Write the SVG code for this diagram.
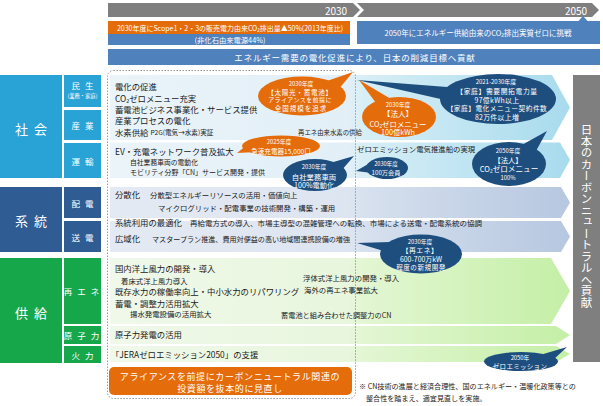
<svg xmlns="http://www.w3.org/2000/svg" width="603" height="406" viewBox="0 0 603 406">
<style>
text { font-family: "Noto Sans CJK JP", "Noto Sans", "DejaVu Sans", sans-serif; dominant-baseline: central; fill: #1a1a1a; }
.w { fill: #fff; }
.m { font-size: 8.4px; }
.s { font-size: 7.4px; }
.c { text-anchor: middle; }
.lab { font-size: 8.5px; fill: #fff; text-anchor: middle; letter-spacing: 5px; }
.big { font-size: 13px; fill: #fff; text-anchor: middle; letter-spacing: 6px; }
.ob { fill: #e46c0a; }
.db { fill: #1d4e7e; }
.soc { fill: #29a3d6; }
.sys { fill: #2e5c93; }
.sup { fill: #17a74b; }
</style>
<defs>
<linearGradient id="gA" gradientUnits="userSpaceOnUse" x1="108" y1="0" x2="570" y2="0">
<stop offset="0" stop-color="#eaf4f9"/><stop offset="0.52" stop-color="#e2eff7"/><stop offset="0.56" stop-color="#d6eef6"/><stop offset="1" stop-color="#a8dbed"/>
</linearGradient>
<linearGradient id="gB" gradientUnits="userSpaceOnUse" x1="108" y1="0" x2="570" y2="0">
<stop offset="0" stop-color="#e4eaf3"/><stop offset="0.52" stop-color="#dde5f1"/><stop offset="0.56" stop-color="#d6e0ee"/><stop offset="1" stop-color="#b6c7e0"/>
</linearGradient>
<linearGradient id="gC" gradientUnits="userSpaceOnUse" x1="108" y1="0" x2="570" y2="0">
<stop offset="0" stop-color="#f0f8ea"/><stop offset="0.52" stop-color="#e8f6dd"/><stop offset="0.56" stop-color="#e2f6d2"/><stop offset="1" stop-color="#c4efa6"/>
</linearGradient>
</defs>

<!-- timeline -->
<g id="timeline">
<polygon fill="#7f7f7f" points="108,3 353,3 360,10 353,17 108,17"/>
<polygon fill="#7f7f7f" points="357,3 592,3 599,10 592,17 357,17 364,10"/>
<text class="w c" x="336" y="10" font-size="10">2030</text>
<text class="w c" x="576" y="10" font-size="10">2050</text>
</g>

<g id="goal2030">
<rect x="108" y="21" width="242" height="13" fill="#e46c0a"/>
<rect x="108" y="34" width="242" height="11" fill="#4f81bd"/>
<text class="w c" x="230" y="28" font-size="7.3" textLength="226" lengthAdjust="spacingAndGlyphs">2030年度にScope1・2・3の販売電力由来CO₂排出量▲50%(2013年度比)</text>
<text class="w c" x="230" y="40" font-size="7.3">(非化石由来電源44%)</text>
</g>

<g id="goal2050">
<rect x="357" y="21" width="243" height="23" fill="#4f81bd"/>
<polygon fill="#4f81bd" points="578,21.5 583,16 588,21.5"/>
<text class="w c" x="478" y="32" font-size="7.5" textLength="187" lengthAdjust="spacingAndGlyphs">2050年にエネルギー供給由来のCO₂排出実質ゼロに挑戦</text>
</g>

<g id="banner">
<rect x="108" y="49" width="492" height="16" fill="#4f81bd"/>
<text class="w c" x="355" y="57" font-size="8.5" letter-spacing="0.8">エネルギー需要の電化促進により、日本の削減目標へ貢献</text>
</g>

<!-- bands -->
<g id="bands">
<polygon fill="url(#gA)" points="110,75 552,75 570,107.5 552,140 110,140"/>
<polygon fill="url(#gA)" points="110,142.5 560,142.5 570,160 560,178 110,178"/>
<polygon fill="url(#gB)" points="110,187 561,187 570,202.5 561,218 110,218"/>
<polygon fill="url(#gB)" points="110,221 561,221 570,236.5 561,252 110,252"/>
<polygon fill="url(#gC)" points="110,258 551,258 570,291 551,324 110,324"/>
<polygon fill="url(#gC)" points="110,326 556,326 570,335 556,344 110,344"/>
<polygon fill="url(#gC)" points="110,346 556,346 570,354 556,362 110,362"/>
</g>

<rect id="frame2030" x="107.5" y="70.5" width="248" height="328" rx="6" fill="none" stroke="#9a9a9a" stroke-width="1" stroke-dasharray="1.5 1.5"/>

<!-- left categories -->
<g id="cat-society">
<rect class="soc" x="0" y="75" width="62" height="103"/>
<text class="big" x="34" y="128">社会</text>
</g>
<g id="cat-minsei">
<rect class="soc" x="64" y="75" width="37" height="32"/>
<text class="lab" x="85" y="85">民生</text>
<text class="w c" x="82.5" y="96" font-size="5.3">(業務・家庭)</text>
</g>
<g id="cat-sangyo">
<rect class="soc" x="64" y="110" width="37" height="30"/>
<text class="lab" x="85" y="125">産業</text>
</g>
<g id="cat-unyu">
<rect class="soc" x="64" y="143" width="37" height="35"/>
<text class="lab" x="85" y="160.5">運輸</text>
</g>
<g id="cat-system">
<rect class="sys" x="0" y="187" width="62" height="65"/>
<text class="big" x="34" y="220">系統</text>
</g>
<g id="cat-haiden">
<rect class="sys" x="64" y="187" width="37" height="31"/>
<text class="lab" x="85" y="202.5">配電</text>
</g>
<g id="cat-soden">
<rect class="sys" x="64" y="221" width="37" height="31"/>
<text class="lab" x="85" y="236.5">送電</text>
</g>
<g id="cat-supply">
<rect class="sup" x="0" y="258" width="62" height="105"/>
<text class="big" x="34" y="312">供給</text>
</g>
<g id="cat-renew">
<rect class="sup" x="64" y="258" width="37" height="66"/>
<text class="lab" x="84" y="291" letter-spacing="2">再エネ</text>
</g>
<g id="cat-nuclear">
<rect class="sup" x="64" y="326" width="37" height="18"/>
<text class="lab" x="84" y="335" letter-spacing="2">原子力</text>
</g>
<g id="cat-thermal">
<rect class="sup" x="64" y="346" width="37" height="17"/>
<text class="lab" x="85" y="354.5">火力</text>
</g>

<!-- right box -->
<g id="cn-box">
<rect x="573" y="75" width="27" height="287" fill="#7f7f7f"/>
<text class="w" x="586.5" y="216" font-size="11.5" writing-mode="vertical-rl" text-anchor="middle">日本のカーボンニュートラルへ貢献</text>
</g>

<!-- row texts -->
<g id="txt-society">
<text class="m" x="115" y="86">電化の促進</text>
<text class="m" x="115" y="97.5">CO₂ゼロメニュー充実</text>
<text class="m" x="115" y="108.5">蓄電池ビジネス事業化・サービス提供</text>
<text class="m" x="115" y="120">産業プロセスの電化</text>
<text class="m" x="115" y="132">水素供給 <tspan font-size="6.6">P2G(電気→水素)実証</tspan></text>
<text x="298" y="132" font-size="6.4">再エネ由来水素の供給</text>
<text class="m" x="115" y="150.5">EV・充電ネットワーク普及拡大</text>
<text x="130" y="161.5" font-size="6.8">自社業務車両の電動化</text>
<text x="130" y="172" font-size="7">モビリティ分野「CN」サービス開発・提供</text>
<text class="s" x="357" y="148">ゼロエミッション電気推進船の実現</text>
</g>
<g id="txt-system">
<text class="m" x="115" y="194">分散化</text>
<text class="s" x="150" y="194">分散型エネルギーリソースの活用・価値向上</text>
<text class="s" x="158" y="207">マイクログリッド・配電事業の技術開発・構築・運用</text>
<text class="m" x="115" y="222">系統利用の最適化</text>
<text class="s" x="190" y="222" textLength="292" lengthAdjust="spacingAndGlyphs">再給電方式の導入、市場主導型の混雑管理への転換、市場による送電・配電系統の協調</text>
<text class="m" x="115" y="238">広域化</text>
<text class="s" x="152" y="238" textLength="198" lengthAdjust="spacingAndGlyphs">マスタープラン推進、費用対便益の高い地域間連携設備の増強</text>
</g>
<g id="txt-supply">
<text class="m" x="115" y="268">国内洋上風力の開発・導入</text>
<text class="s" x="121" y="280">着床式洋上風力導入</text>
<text class="m" x="115" y="290.5">既存水力の稼働率向上・中小水力のリパワリング</text>
<text class="m" x="115" y="302.5">蓄電・調整力活用拡大</text>
<text class="s" x="130" y="313.5">揚水発電設備の活用拡大</text>
<text class="s" x="303" y="277">浮体式洋上風力の開発・導入</text>
<text class="s" x="304" y="289">海外の再エネ事業拡大</text>
<text x="281" y="315" font-size="7.2">蓄電池と組み合わせた調整力のCN</text>
<text class="m" x="115" y="334">原子力発電の活用</text>
<text class="m" x="111" y="353.5">「JERAゼロエミッション2050」の支援</text>
</g>

<!-- callouts -->
<g id="c-solar">
<polygon class="ob" points="324,82 353,72 338,90"/>
<ellipse class="ob" cx="302" cy="96" rx="44" ry="19.5"/>
<text class="w c" x="301" y="83.5" font-size="5.8">2030年度</text>
<text class="w c" x="300" y="91.5" font-size="6.6" letter-spacing="0.7">【太陽光・蓄電池】</text>
<text class="w c" x="300" y="99.5" font-size="6" letter-spacing="0.4">アライアンスを前提に</text>
<text class="w c" x="301" y="107.5" font-size="6.5" letter-spacing="1">全国規模を追求</text>
</g>
<g id="c-corp2030">
<polygon class="ob" points="376,103 359,80 391,99"/>
<ellipse class="ob" cx="399" cy="117" rx="37" ry="20"/>
<text class="w c" x="398" y="104.5" font-size="5.8">2030年度</text>
<text class="w c" x="398" y="113.5" font-size="7.6">【法人】</text>
<text class="w c" x="398" y="123" font-size="7.4">CO₂ゼロメニュー</text>
<text class="w c" x="398" y="132" font-size="7.2">100億kWh</text>
</g>
<g id="c-home">
<polygon class="db" points="357,80 447,87 445,100"/>
<ellipse class="db" cx="498" cy="99" rx="58" ry="25"/>
<text class="w c" x="496" y="81.5" font-size="6">2021-2030年度</text>
<text class="w c" x="497" y="90.5" font-size="6.8" letter-spacing="0.6">【家庭】需要開拓電力量</text>
<text class="w c" x="497" y="99.5" font-size="6.9" letter-spacing="0.3">97億kWh以上</text>
<text class="w c" x="497" y="108" font-size="6.7" letter-spacing="0.5">【家庭】電化メニュー契約件数</text>
<text class="w c" x="497" y="116.5" font-size="6.9" letter-spacing="0.3">82万件以上増</text>
</g>
<g id="c-charger">
<polygon class="ob" points="252,141 237,153 258,152"/>
<ellipse class="ob" cx="281" cy="146" rx="39" ry="10.5"/>
<text class="w c" x="279" y="141" font-size="5.8">2025年度</text>
<text class="w c" x="281" y="150.5" font-size="6.6">急速充電器15,000口</text>
</g>
<g id="c-fleet">
<polygon class="db" points="330,163 354,156 341,171"/>
<ellipse class="db" cx="315" cy="175" rx="32" ry="16"/>
<text class="w c" x="314" y="166.5" font-size="5.8">2030年度</text>
<text class="w c" x="314" y="176" font-size="7.4">自社業務車両</text>
<text class="w c" x="314" y="185" font-size="7.2">100%電動化</text>
</g>
<g id="c-member">
<polygon class="db" points="370,163 356,171 372,173"/>
<ellipse class="db" cx="387" cy="168" rx="21" ry="11"/>
<text class="w c" x="386" y="163.5" font-size="5.6">2030年度</text>
<text class="w c" x="386" y="172.5" font-size="6.2">100万会員</text>
</g>
<g id="c-corp2050">
<polygon class="db" points="520,146 547,131 536,151"/>
<ellipse class="db" cx="509" cy="164" rx="37" ry="22"/>
<text class="w c" x="508" y="150.5" font-size="5.8">2050年度</text>
<text class="w c" x="508" y="159.5" font-size="7.3">【法人】</text>
<text class="w c" x="509" y="168.5" font-size="7.6">CO₂ゼロメニュー</text>
<text class="w c" x="508" y="177" font-size="5.8">100%</text>
</g>
<g id="c-renew">
<polygon class="db" points="357,243 390,242 387,252"/>
<ellipse class="db" cx="421" cy="254" rx="41" ry="19.5"/>
<text class="w c" x="420" y="241.5" font-size="5.8">2030年度</text>
<text class="w c" x="420" y="250" font-size="6.8" letter-spacing="0.5">【再エネ】</text>
<text class="w c" x="421" y="258.5" font-size="6.9">600-700万kW</text>
<text class="w c" x="421" y="267" font-size="6.6" letter-spacing="0.5">程度の新規開発</text>
</g>
<g id="c-zero">
<polygon class="db" points="540,355 567,347 553,360"/>
<ellipse class="db" cx="521" cy="361.5" rx="37" ry="9.5"/>
<text class="w c" x="520" y="357.5" font-size="5.8">2050年</text>
<text class="w c" x="520" y="366" font-size="6.5" letter-spacing="0.3">ゼロエミッション</text>
</g>

<g id="investment">
<rect x="109" y="367" width="243" height="28" rx="5" fill="#e46c0a"/>
<text class="w c" x="230" y="376" font-size="9" letter-spacing="0.6">アライアンスを前提にカーボンニュートラル関連の</text>
<text class="w c" x="230" y="388.5" font-size="9" letter-spacing="0.6">投資額を抜本的に見直し</text>
</g>

<g id="note">
<text x="359" y="386" font-size="7.1" fill="#333">※ CN技術の進展と経済合理性、国のエネルギー・温暖化政策等との</text>
<text x="366" y="398" font-size="7.1" fill="#333">整合性を踏まえ、適宜見直しを実施。</text>
</g>
</svg>
